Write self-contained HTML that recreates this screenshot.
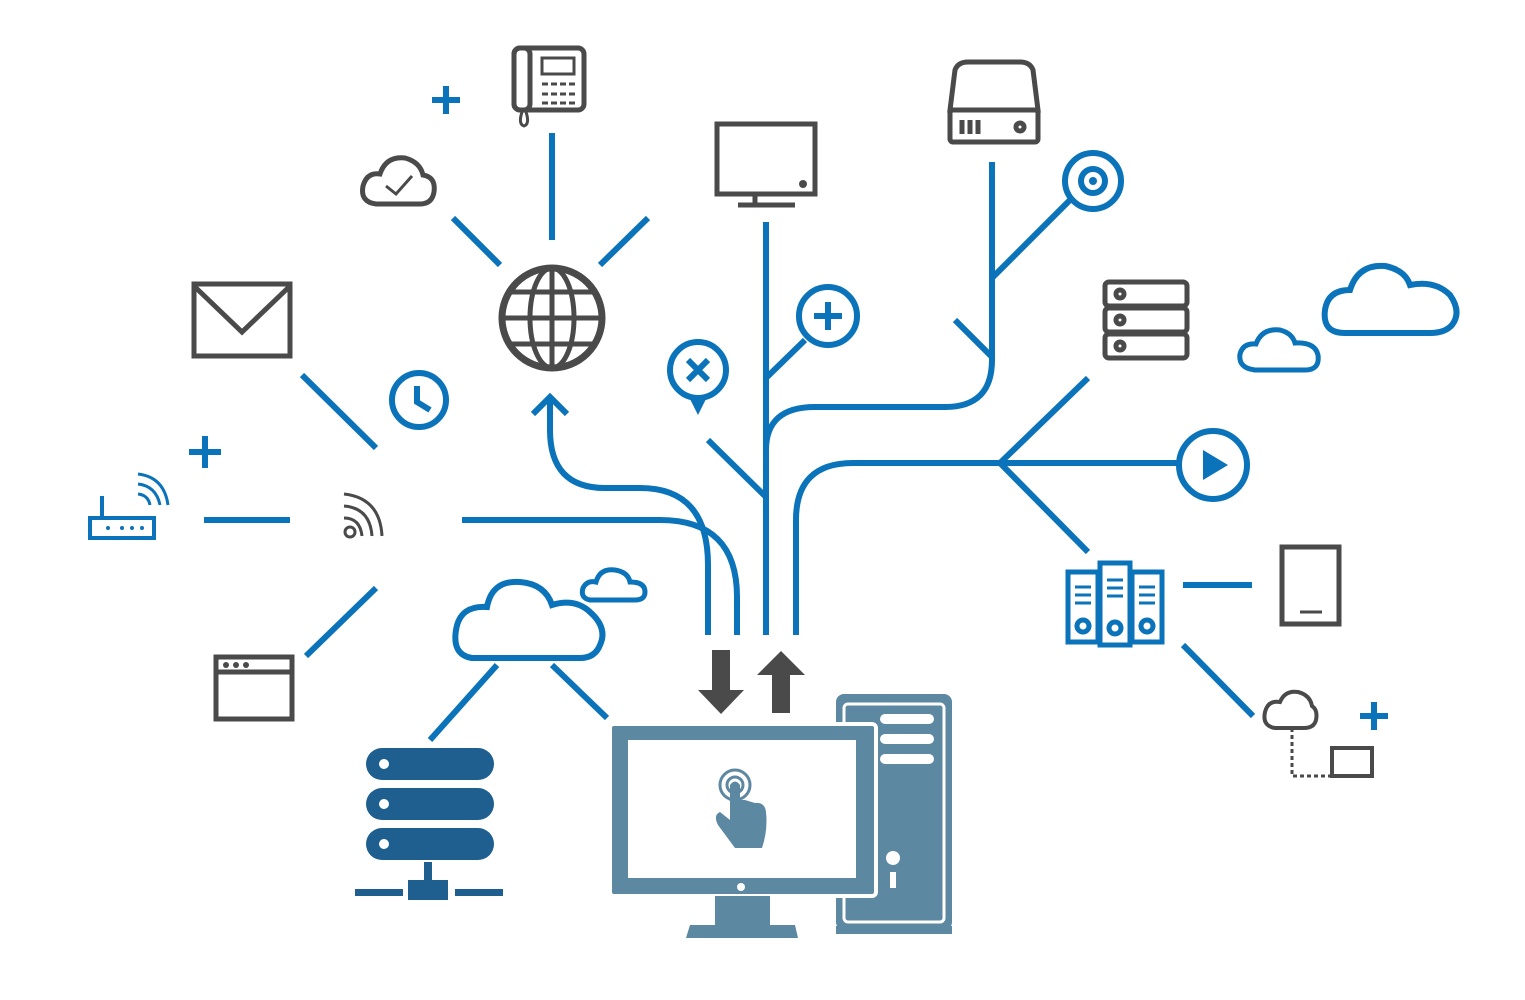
<!DOCTYPE html>
<html><head><meta charset="utf-8"><style>html,body{margin:0;padding:0;background:#fff;width:1525px;height:1000px;overflow:hidden}</style></head>
<body>
<svg width="1525" height="1000" viewBox="0 0 1525 1000" xmlns="http://www.w3.org/2000/svg">
<g fill="none" stroke="#0a73b9" stroke-width="6" stroke-linecap="butt">
<!-- globe spokes -->
<line x1="552" y1="133" x2="552" y2="240"/>
<line x1="453" y1="218" x2="500" y2="265"/>
<line x1="648" y1="218" x2="600" y2="265"/>
<!-- arrow curve to globe -->
<path d="M708 635 V565 Q708 488 640 488 H605 Q550 488 550 430 V398"/>
<path d="M533 414 L550 397 L567 414"/>
<path d="M462 520 H660 Q737 520 737 597 V635"/>
<line x1="766" y1="222" x2="766" y2="635"/>
<line x1="766" y1="378" x2="805" y2="340"/>
<line x1="708" y1="440" x2="766" y2="497"/>
<path d="M766 450 Q766 407 815 407 H945 Q992 407 992 360 V162"/>
<line x1="992" y1="278" x2="1070" y2="200"/>
<line x1="955" y1="320" x2="992" y2="357"/>
<path d="M796 635 V520 Q796 463 853 463 H1178"/>
<line x1="1000" y1="463" x2="1088" y2="378"/>
<line x1="1000" y1="463" x2="1088" y2="552"/>
<line x1="1183" y1="585" x2="1252" y2="585"/>
<line x1="1183" y1="645" x2="1253" y2="716"/>
<line x1="302" y1="375" x2="376" y2="448"/>
<line x1="204" y1="520" x2="290" y2="520"/>
<line x1="376" y1="588" x2="306" y2="656"/>
<line x1="497" y1="665" x2="430" y2="740"/>
<line x1="552" y1="665" x2="607" y2="718"/>
<!-- plus signs -->
<path d="M446 86 V114 M432 100 H460"/>
<path d="M205 436 V468 M189 452 H221"/>
<path d="M1374 702 V730 M1360 716 H1388"/>
<!-- circles -->
<circle cx="828" cy="316" r="29"/>
<path d="M828 302 V330 M814 316 H842"/>
<circle cx="1093" cy="181" r="28"/>
<circle cx="1093" cy="181" r="12"/>
<circle cx="1213" cy="465" r="34"/>
<circle cx="419" cy="400" r="27"/>
<path d="M417 386 V402 L430 410"/>
<circle cx="698" cy="370" r="28"/>
<path d="M688 360 L708 380 M708 360 L688 380"/>
<!-- clouds blue -->
<path d="M472 658 Q452 655 456 630 Q460 605 487 607 Q492 580 520 582 Q545 584 552 605 Q575 598 590 612 Q608 628 600 645 Q595 658 580 658 Z"/>
<path d="M590 600 Q580 598 583 588 Q587 580 596 582 Q600 568 615 570 Q628 572 630 582 Q645 582 645 592 Q645 600 635 600 Z" stroke-width="5"/>
<path d="M1345 333 Q1322 333 1325 310 Q1328 290 1350 290 Q1358 264 1385 266 Q1405 270 1410 285 Q1435 280 1450 295 Q1462 312 1452 325 Q1445 333 1430 333 Z"/>
<path d="M1255 370 Q1238 368 1240 354 Q1243 343 1256 344 Q1262 328 1280 330 Q1292 333 1295 343 Q1315 342 1318 355 Q1320 370 1305 370 Z" stroke-width="5"/>
<!-- router -->
<rect x="90" y="518" width="64" height="20" stroke-width="4"/>
<path d="M102 518 V496" stroke-width="4"/>
<path d="M138 494 Q148 495 150 505 M138 484 Q156 486 160 505 M138 474 Q164 477 168 505" stroke-width="3"/>
</g>
<circle cx="1093" cy="181" r="4" fill="#0a73b9"/>
<path d="M1203 450 L1228 465 L1203 480 Z" fill="#0a73b9"/>
<path d="M688 395 L708 395 L698 415 Z" fill="#0a73b9"/>
<g fill="#0a73b9"><circle cx="108" cy="528" r="2"/><circle cx="122" cy="528" r="2"/><circle cx="132" cy="528" r="2"/><circle cx="142" cy="528" r="2"/></g>
<!-- servers rack blue -->
<g fill="none" stroke="#0a73b9" stroke-width="5">
<rect x="1068" y="572" width="30" height="70"/>
<rect x="1100" y="563" width="30" height="82"/>
<rect x="1132" y="572" width="30" height="70"/>
<circle cx="1083" cy="626" r="6"/><circle cx="1115" cy="628" r="6"/><circle cx="1147" cy="626" r="6"/>
<path d="M1075 587 H1091 M1075 595 H1091 M1075 603 H1091 M1107 580 H1123 M1107 588 H1123 M1107 596 H1123 M1139 587 H1155 M1139 595 H1155 M1139 603 H1155" stroke-width="3"/>
</g>
<!-- dark gray icons -->
<g fill="none" stroke="#4a4a4a" stroke-width="5">
<circle cx="552" cy="318" r="50" stroke-width="7"/>
<ellipse cx="552" cy="318" rx="22" ry="50"/>
<line x1="552" y1="268" x2="552" y2="368"/>
<line x1="502" y1="318" x2="602" y2="318"/>
<path d="M510 292 H594 M510 344 H594"/>
<rect x="717" y="124" width="98" height="70"/>
<path d="M755 196 V204 M738 205 H795"/>
<path d="M955 70 Q958 62 968 62 H1020 Q1030 62 1033 70 L1038 110 H950 Z"/>
<rect x="950" y="110" width="88" height="32" rx="3"/>
<path d="M962 120 V134 M970 120 V134 M978 120 V134"/><circle cx="1020" cy="127" r="4"/>
<rect x="1105" y="282" width="82" height="24" rx="4"/>
<rect x="1105" y="308" width="82" height="24" rx="4"/>
<rect x="1105" y="334" width="82" height="24" rx="4"/>
<circle cx="1120" cy="294" r="4"/><circle cx="1120" cy="320" r="4"/><circle cx="1120" cy="346" r="4"/>
<rect x="194" y="284" width="96" height="72"/>
<path d="M194 286 L242 332 L290 286"/>
<rect x="216" y="657" width="76" height="62"/>
<line x1="216" y1="672" x2="292" y2="672"/>
<path d="M376 204 Q360 202 363 186 Q367 172 380 174 Q386 156 405 158 Q420 162 423 175 Q436 177 434 192 Q432 204 420 204 Z"/>
<path d="M386 186 L396 194 L412 176" stroke-width="3"/>
<rect x="1282" y="547" width="57" height="77"/>
<line x1="1300" y1="612" x2="1322" y2="612" stroke-width="3"/>
<path d="M1275 728 Q1262 726 1265 712 Q1268 700 1280 702 Q1285 690 1298 692 Q1310 695 1312 706 Q1318 710 1316 720 Q1314 728 1304 728 Z" stroke-width="4"/>
<path d="M1292 728 V776 H1332" stroke-dasharray="4 3" stroke-width="3"/>
<rect x="1332" y="748" width="40" height="28" stroke-width="4"/>
<rect x="514" y="48" width="70" height="62" rx="6"/>
<rect x="514" y="48" width="16" height="62" rx="6"/>
<rect x="542" y="58" width="32" height="16" stroke-width="3"/>
<path d="M542 84 H576 M542 94 H576 M542 103 H576" stroke-width="3" stroke-dasharray="6 3"/>
<path d="M522 112 Q518 124 524 126 Q530 124 526 112" stroke-width="3"/>
<circle cx="350" cy="532" r="5" stroke-width="3"/>
<path d="M344 518 Q360 518 362 536 M344 506 Q370 508 372 536 M344 494 Q380 498 382 536" stroke-width="3"/>
</g>
<g fill="#4a4a4a"><circle cx="803" cy="184" r="4"/><circle cx="226" cy="665" r="3"/><circle cx="236" cy="665" r="3"/><circle cx="246" cy="665" r="3"/></g>
<!-- up/down arrows -->
<path d="M712 650 H730 V690 H744 L721 714 L698 690 H712 Z" fill="#4a4a4a"/>
<path d="M772 713 H790 V675 H805 L781 651 L757 675 H772 Z" fill="#4a4a4a"/>
<!-- server stack -->
<g fill="#1f5f8f">
<rect x="366" y="748" width="128" height="32" rx="16"/>
<rect x="366" y="788" width="128" height="32" rx="16"/>
<rect x="366" y="828" width="128" height="32" rx="16"/>
<rect x="424" y="862" width="8" height="22"/>
<rect x="355" y="889" width="48" height="7"/>
<rect x="455" y="889" width="48" height="7"/>
<rect x="408" y="880" width="40" height="20"/>
</g>
<g fill="#fff"><circle cx="384" cy="764" r="5"/><circle cx="384" cy="804" r="5"/><circle cx="384" cy="844" r="5"/></g>
<!-- tower -->
<rect x="836" y="694" width="116" height="236" rx="8" fill="#5d88a2"/>
<rect x="844" y="704" width="100" height="218" rx="4" fill="none" stroke="#fff" stroke-width="3"/>
<g fill="#fff"><rect x="880" y="714" width="54" height="10" rx="5"/><rect x="880" y="734" width="54" height="10" rx="5"/><rect x="880" y="754" width="54" height="10" rx="5"/><circle cx="893" cy="858" r="7"/><rect x="890" y="872" width="6" height="16"/></g>
<rect x="836" y="926" width="116" height="8" fill="#5d88a2"/>
<!-- monitor -->
<rect x="610" y="724" width="266" height="172" rx="4" fill="#5d88a2" stroke="#fff" stroke-width="4"/>
<rect x="628" y="740" width="228" height="138" fill="#fff"/>
<circle cx="741" cy="887" r="4" fill="#fff"/>
<path d="M715 896 H770 V925 H795 L798 938 H686 L690 925 H715 Z" fill="#5d88a2"/>
<g fill="none" stroke="#5d88a2" stroke-width="3"><circle cx="735" cy="785" r="8"/><circle cx="735" cy="785" r="15"/></g>
<path d="M730 785 V820 L720 812 Q713 815 718 825 L735 848 H762 Q768 830 766 812 Q765 802 755 803 L745 800 L740 800 V785 Q735 778 730 785 Z" fill="#5d88a2"/>
</svg>
</body></html>
